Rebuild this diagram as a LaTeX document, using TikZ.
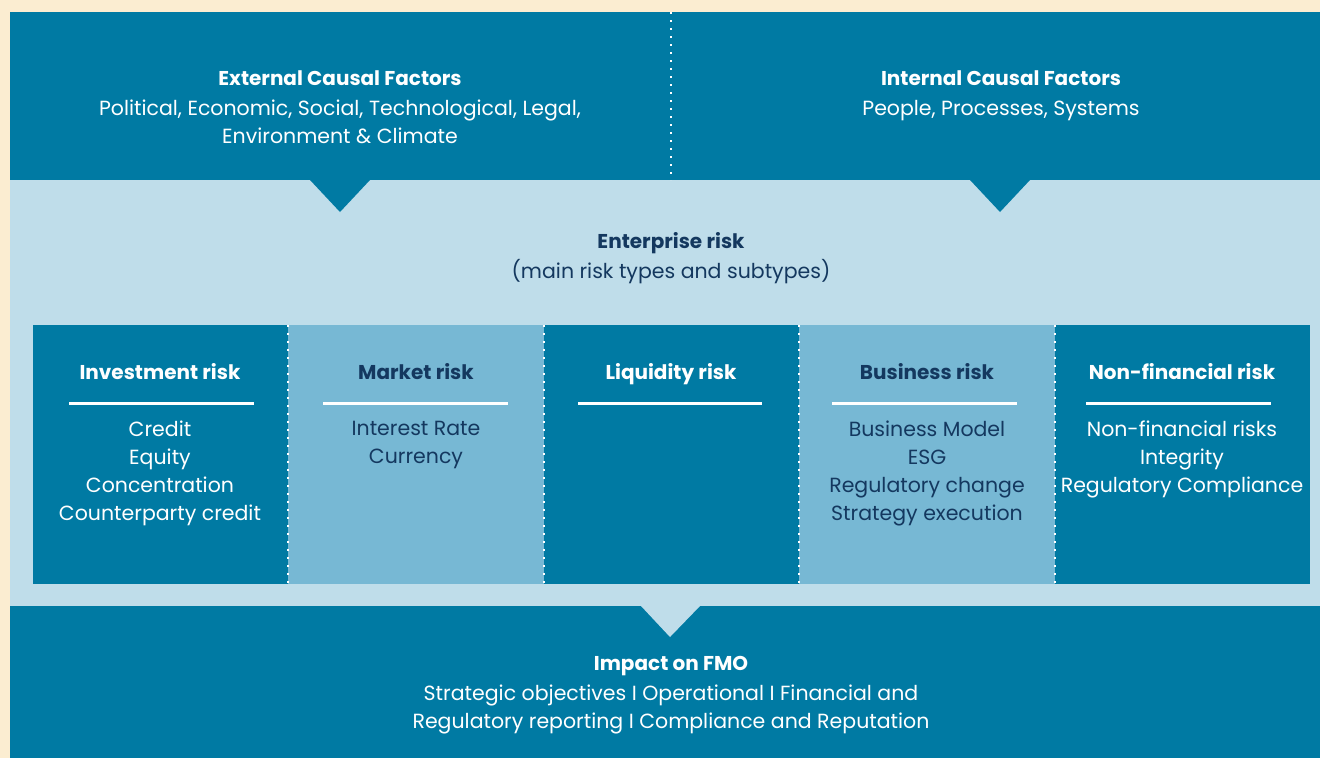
\documentclass[tikz,border=0pt]{standalone}
\usepackage{fontspec}
\setmainfont{Poppins}
\definecolor{cream}{HTML}{FBEDD1}
\definecolor{darkb}{HTML}{007AA3}
\definecolor{lightb}{HTML}{BFDDEA}
\definecolor{midb}{HTML}{77B8D4}
\definecolor{navy}{HTML}{14385F}
\tikzset{
  body/.style={align=center, font=\fontsize{20.5}{28}\selectfont, inner sep=0pt},
  head/.style={align=center, font=\fontsize{20}{28}\selectfont\bfseries, inner sep=0pt, anchor=base},
  dots/.style={white, line width=2pt, dash pattern=on 2pt off 6pt},
  rule/.style={line width=3pt},
}
\begin{document}
\begin{tikzpicture}[x=1pt,y=-1pt]
\useasboundingbox (0,0) rectangle (1320,758);
\fill[cream] (0,0) rectangle (1320,758);
% bands
\fill[darkb] (10,12) rectangle (1320,180);
\fill[lightb] (10,180) rectangle (1320,606);
\fill[darkb] (10,606) rectangle (1320,758);
% pointers
\fill[darkb] (310,180) -- (340,212) -- (370,180) -- cycle;
\fill[darkb] (970,180) -- (1000,212) -- (1030,180) -- cycle;
\fill[lightb] (641,606) -- (670,637) -- (700,606) -- cycle;
% columns
\fill[darkb] (33,325) rectangle (288,584);
\fill[midb] (288,325) rectangle (544,584);
\fill[darkb] (544,325) rectangle (799,584);
\fill[midb] (799,325) rectangle (1055,584);
\fill[darkb] (1055,325) rectangle (1310,584);
\coordinate (d0a) at (671,12); \coordinate (d0b) at (671,180);
\coordinate (d1a) at (288,325); \coordinate (d1b) at (288,584);
\coordinate (d2a) at (544,325); \coordinate (d2b) at (544,584);
\coordinate (d3a) at (799,325); \coordinate (d3b) at (799,584);
\coordinate (d4a) at (1055,325); \coordinate (d4b) at (1055,584);
\foreach \i in {0,...,4} \draw[dots] (d\i a) -- (d\i b);
% top texts
\node[head, white] (ext) at (340,85) {External Causal Factors};
\node[body, white, anchor=north] (extb) at (340,100) {Political, Economic, Social, Technological, Legal,\\Environment \& Climate};
\node[head, white] (int) at (1001,85) {Internal Causal Factors};
\node[body, white, anchor=north] (intb) at (1001,100) {People, Processes, Systems};
% enterprise
\node[head, navy] (ent) at (671,248) {Enterprise risk};
\node[body, navy, anchor=north] (entb) at (671,259) {(main risk types and subtypes)};
% column headings
\node[head, white] (h1) at (160,379) {Investment risk};
\node[head, navy] (h2) at (416,379) {Market risk};
\node[head, white] (h3) at (671,379) {Liquidity risk};
\node[head, navy] (h4) at (927,379) {Business risk};
\node[head, white] (h5) at (1182,379) {Non-financial risk};
\draw[rule, white] (69,403) -- (254,403);
\draw[rule, white] (323,403) -- (508,403);
\draw[rule, white] (578,403) -- (762,403);
\draw[rule, white] (832,403) -- (1017,403);
\draw[rule, white] (1086,403) -- (1271,403);
% column items
\node[body, white, anchor=north] (i1) at (160,421) {Credit\\Equity\\Concentration\\Counterparty credit};
\node[body, navy, anchor=north] (i2) at (416,421) {Interest Rate\\Currency};
\node[body, navy, anchor=north] (i4) at (927,421) {Business Model\\ESG\\Regulatory change\\Strategy execution};
\node[body, white, anchor=north] (i5) at (1182,421) {Non-financial risks\\Integrity\\Regulatory Compliance};
% impact
\node[head, white] (imp) at (671,670) {Impact on FMO};
\node[body, white, anchor=north] (impb) at (671,685) {Strategic objectives I Operational I Financial and\\Regulatory reporting I Compliance and Reputation};
\end{tikzpicture}
\end{document}
